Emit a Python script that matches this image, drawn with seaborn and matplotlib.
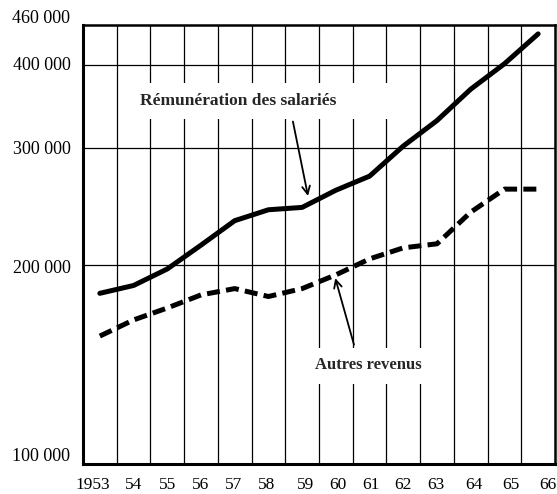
import matplotlib
matplotlib.use("Agg")
import matplotlib.pyplot as plt
from matplotlib.patches import Rectangle
from matplotlib.ticker import FixedLocator, NullLocator
from matplotlib.transforms import ScaledTranslation
import seaborn as sns
import pandas as pd

# Revenus des ménages, 1953-1966 (échelle logarithmique)
years = [1953, 1954, 1955, 1956, 1957, 1958, 1959, 1960, 1961, 1962, 1963, 1964, 1965, 1966]
remuneration_salaries = [181000, 186000, 197000, 214000, 233000, 242000, 244000,
                         259000, 272000, 302000, 330000, 368000, 402000, 446000]
autres_revenus = [156000, 165000, 172000, 180000, 184000, 179000, 184000,
                  193000, 204000, 212000, 215000, 240000, 260000, 260000]

year_labels = ["1953", "54", "55", "56", "57", "58", "59", "60", "61", "62", "63", "64", "65", "66"]
y_ticks = [100000, 200000, 300000, 400000, 460000]
y_tick_labels = ["100 000", "200 000", "300 000", "400 000", "460 000"]

df = pd.DataFrame({
    "annee": years,
    "Rémunération des salariés": remuneration_salaries,
    "Autres revenus": autres_revenus,
})

sns.set_theme(style="white")
plt.rcParams["font.family"] = ["Liberation Serif", "DejaVu Serif"]

fig = plt.figure(figsize=(5.57, 4.94), dpi=100)
ax = fig.add_axes([83 / 557, 30 / 494, 472 / 557, 439 / 494])

ax.set_yscale("log")
ax.set_xlim(1952.5, 1966.5)
ax.set_ylim(100000, 460000)

# grid: vertical rules between the years, horizontal rules at round values
for gx in [y + 0.5 for y in years[:-1]]:
    ax.axvline(gx, color="black", lw=0.9, zorder=1)
for gy in [200000, 300000, 400000]:
    ax.axhline(gy, color="black", lw=0.9, zorder=1)

sns.lineplot(data=df, x="annee", y="Rémunération des salariés", ax=ax,
             color="black", lw=3.6, zorder=4, solid_capstyle="round",
             solid_joinstyle="round")
sns.lineplot(data=df, x="annee", y="Autres revenus", ax=ax,
             color="black", lw=3.6, zorder=4, linestyle=(0, (2.6, 1.25)),
             dash_capstyle="butt", dash_joinstyle="round")

# white label panels interrupting the grid
ax.add_patch(Rectangle((1953.9, 332000), 7.95, 44000, facecolor="white",
                       edgecolor="none", zorder=2))
ax.add_patch(Rectangle((1958.95, 132000), 3.85, 17500, facecolor="white",
                       edgecolor="none", zorder=2))

ax.text(1957.1, 353000, "Rémunération des salariés", ha="center", va="center",
        fontsize=12.5, fontweight="bold", zorder=5)
ax.text(1960.95, 141000, "Autres revenus", ha="center", va="center",
        fontsize=12, fontweight="bold", zorder=5)

ax.annotate("", xy=(1959.19, 251500), xytext=(1958.71, 332000),
            arrowprops=dict(arrowstyle="->", color="black", lw=1.3,
                            mutation_scale=14), zorder=5)
ax.annotate("", xy=(1959.96, 192600), xytext=(1960.56, 150000),
            arrowprops=dict(arrowstyle="->", color="black", lw=1.3,
                            mutation_scale=14), zorder=5)

ax.xaxis.set_major_locator(FixedLocator(years))
ax.set_xticklabels(year_labels)
ax.yaxis.set_major_locator(FixedLocator(y_ticks))
ax.yaxis.set_minor_locator(NullLocator())
ax.set_yticklabels(y_tick_labels)
ax.tick_params(axis="x", length=0, labelsize=12.5, colors="black", pad=9)
ax.tick_params(axis="y", length=0, labelsize=13, colors="black", pad=9)
ax.set_xlabel("")
ax.set_ylabel("")

# small hand-set nudges of the printed tick labels (pixels)
x_nudge = [-7, 0, 0, 0, -1, -2, 3, 2, 1, 0, -1, 3, 6, 10]
for lab, dx in zip(ax.get_xticklabels(), x_nudge):
    lab.set_transform(lab.get_transform() + ScaledTranslation(dx / 100, 0, fig.dpi_scale_trans))
y_nudge = [10, -2, 0, 2, 9]
for lab, dy in zip(ax.get_yticklabels(), y_nudge):
    lab.set_transform(lab.get_transform() + ScaledTranslation(0, dy / 100, fig.dpi_scale_trans))

for side in ["left", "bottom", "right", "top"]:
    ax.spines[side].set_visible(True)
    ax.spines[side].set_color("black")
    ax.spines[side].set_linewidth(1.8)
ax.spines["left"].set_linewidth(2.2)
ax.spines["bottom"].set_linewidth(2.2)

fig.savefig("out.png", dpi=100, facecolor="white")
